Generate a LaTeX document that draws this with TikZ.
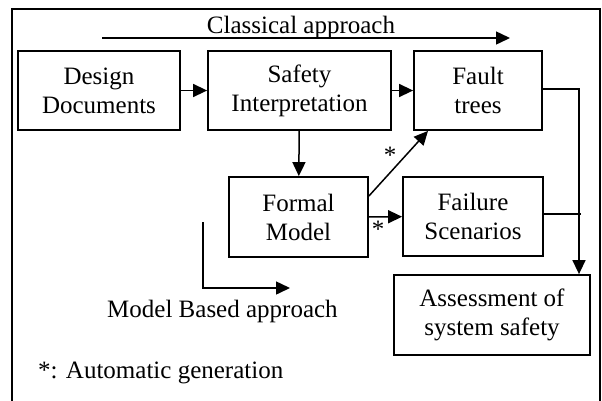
\documentclass[tikz,border=0pt]{standalone}
\usepackage{fontspec}
\setmainfont{Liberation Serif}
\usetikzlibrary{arrows.meta}
\begin{document}
\begin{tikzpicture}[x=1pt,y=-1pt,
  box/.style={draw,line width=1.8pt,inner sep=0pt,align=center,font=\fontsize{25}{29}\selectfont},
  conn/.style={line width=1.5pt},
  arr/.style={conn,-{Triangle[length=14pt,width=13pt]}},
  lbl/.style={inner sep=0pt,font=\fontsize{25}{29}\selectfont},
  star/.style={inner sep=0pt,font=\fontsize{25}{29}\selectfont}]
\useasboundingbox (0,0) rectangle (602,400);
\draw[line width=1.8pt] (12,9) rectangle (600,406);
\node[box,minimum width=162pt,minimum height=79pt] (design) at (99,90.5) {Design\\Documents};
\node[box,minimum width=183pt,minimum height=79pt] (safety) at (299.5,90.5) {Safety\\Interpretation};
\node[box,minimum width=128pt,minimum height=79pt] (fault) at (478,90.5) {Fault\\trees};
\node[box,minimum width=139pt,minimum height=80pt] (formal) at (298.5,217) {Formal\\Model};
\node[box,minimum width=140pt,minimum height=79pt] (failure) at (473,216.5) {Failure\\Scenarios};
\node[box,minimum width=196pt,minimum height=80pt] (assess) at (492,315) {Assessment of\\system safety};
% classical approach
\node[lbl,anchor=base] (classical) at (301,33) {Classical approach};
\coordinate (c1) at (102,38);
\coordinate (c2) at (510,38);
\draw[arr] (c1) -- (c2);
% main flow
\draw[arr] (design) -- (safety);
\draw[arr] (safety) -- (fault);
\draw[arr] (safety) -- (formal);
\draw[arr] (formal) -- (failure);
\coordinate (d1) at (368,196);
\coordinate (d2) at (428,130);
\draw[arr] (formal.east |- d1) -- (d2 |- fault.south);
\coordinate (k1) at (579,89);
\draw[arr] (fault.east |- k1) -- (k1) -- (k1 |- assess.north);
\coordinate (j) at (581,214);
\draw[conn] (failure.east |- j) -- (j);
\node[star] (s1) at (390,155) {*};
\node[star] (s2) at (378,229) {*};
% model based
\coordinate (m1) at (203,222);
\coordinate (m2) at (203,288);
\coordinate (m3) at (290,288);
\draw[arr] (m1) -- (m2) -- (m3);
\node[lbl,anchor=base west] (model) at (107,317) {Model Based approach};
\node[lbl,anchor=base west] (note) at (38,378) {*: Automatic generation};
\end{tikzpicture}
\end{document}
